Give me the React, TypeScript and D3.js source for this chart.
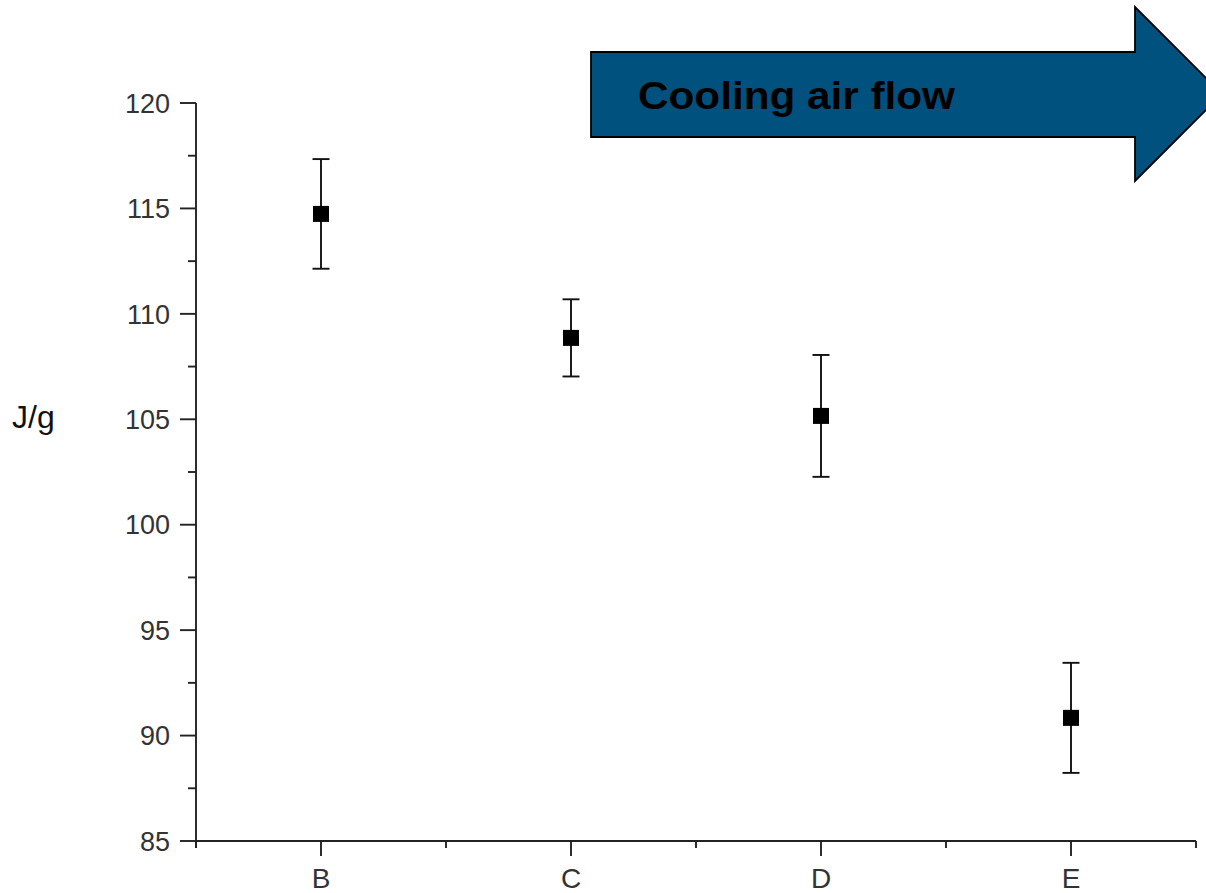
import React, { useEffect, useRef } from "react";
import * as d3 from "d3";

const categories = ["B", "C", "D", "E"];
const means = [114.74, 108.86, 105.16, 90.84];
const errors = [2.6, 1.83, 2.89, 2.61];
const yMajorTicks = [85, 90, 95, 100, 105, 110, 115, 120];
const yMinorTicks = [87.5, 92.5, 97.5, 102.5, 107.5, 112.5, 117.5];
const xMinorTicks = [0.5, 1.5, 2.5, 3.5, 4.5];
const yLabel = "J/g";
const arrowText = "Cooling air flow";

export default function App() {
  const ref = useRef<SVGSVGElement>(null);
  useEffect(() => {
    const svg = d3.select(ref.current);
    svg.selectAll("*").remove();
    const x = d3.scaleLinear().domain([0.5, 4.5]).range([196, 1196]);
    const y = d3.scaleLinear().domain([85, 120]).range([841, 103]);
    const font = "'Liberation Sans', Arial, sans-serif";
    const axisColor = "#222";
    const sw = 1.9;

    const g = svg.append("g");
    // axes lines
    g.append("line").attr("x1", x(0.5)).attr("x2", x(0.5)).attr("y1", y(120)).attr("y2", y(85) + 7)
      .attr("stroke", axisColor).attr("stroke-width", sw);
    g.append("line").attr("x1", x(0.5)).attr("x2", x(4.5)).attr("y1", y(85)).attr("y2", y(85))
      .attr("stroke", axisColor).attr("stroke-width", sw);

    // y ticks
    yMajorTicks.forEach((t) => {
      g.append("line").attr("x1", x(0.5) - 16).attr("x2", x(0.5)).attr("y1", y(t)).attr("y2", y(t))
        .attr("stroke", axisColor).attr("stroke-width", sw);
      g.append("text").attr("x", 170).attr("y", y(t)).attr("dy", "0.36em")
        .attr("text-anchor", "end").attr("font-family", font).attr("font-size", 27)
        .attr("fill", "#333").text(String(t));
    });
    yMinorTicks.forEach((t) => {
      g.append("line").attr("x1", x(0.5) - 8).attr("x2", x(0.5)).attr("y1", y(t)).attr("y2", y(t))
        .attr("stroke", axisColor).attr("stroke-width", sw);
    });
    // x ticks
    categories.forEach((c, i) => {
      g.append("line").attr("x1", x(i + 1)).attr("x2", x(i + 1)).attr("y1", y(85)).attr("y2", y(85) + 15)
        .attr("stroke", axisColor).attr("stroke-width", sw);
      g.append("text").attr("x", x(i + 1)).attr("y", 888)
        .attr("text-anchor", "middle").attr("font-family", font).attr("font-size", 28)
        .attr("fill", "#333").text(c);
    });
    xMinorTicks.forEach((t) => {
      g.append("line").attr("x1", x(t)).attr("x2", x(t)).attr("y1", y(85)).attr("y2", y(85) + 7)
        .attr("stroke", axisColor).attr("stroke-width", sw);
    });

    // y label
    g.append("text").attr("x", 12).attr("y", 428)
      .attr("font-family", font).attr("font-size", 32).attr("fill", "#111").text(yLabel);

    // error bars and markers
    means.forEach((m, i) => {
      const cx = x(i + 1);
      const e = errors[i];
      g.append("line").attr("x1", cx).attr("x2", cx).attr("y1", y(m + e)).attr("y2", y(m - e))
        .attr("stroke", "#111").attr("stroke-width", sw);
      [m + e, m - e].forEach((v) => {
        g.append("line").attr("x1", cx - 8.5).attr("x2", cx + 8.5).attr("y1", y(v)).attr("y2", y(v))
          .attr("stroke", "#111").attr("stroke-width", sw);
      });
      g.append("rect").attr("x", cx - 8).attr("y", y(m) - 8).attr("width", 16).attr("height", 16)
        .attr("fill", "#000");
    });

    // arrow
    const path = d3.path();
    path.moveTo(591, 52);
    path.lineTo(1135, 52);
    path.lineTo(1135, 7);
    path.lineTo(1222, 94);
    path.lineTo(1135, 181);
    path.lineTo(1135, 137);
    path.lineTo(591, 137);
    path.closePath();
    g.append("path").attr("d", path.toString()).attr("fill", "#01517E")
      .attr("stroke", "#000").attr("stroke-width", 1.8);
    g.append("text").attr("x", 638).attr("y", 109).attr("font-family", font)
      .attr("font-weight", "bold").attr("font-size", 38)
      .attr("textLength", 317).attr("lengthAdjust", "spacingAndGlyphs")
      .attr("fill", "#000").text(arrowText);
  }, []);
  return (
    <svg ref={ref} width={1206} height={893}
      style={{ position: "absolute", left: 0, top: 0, background: "#fff" }} />
  );
}
